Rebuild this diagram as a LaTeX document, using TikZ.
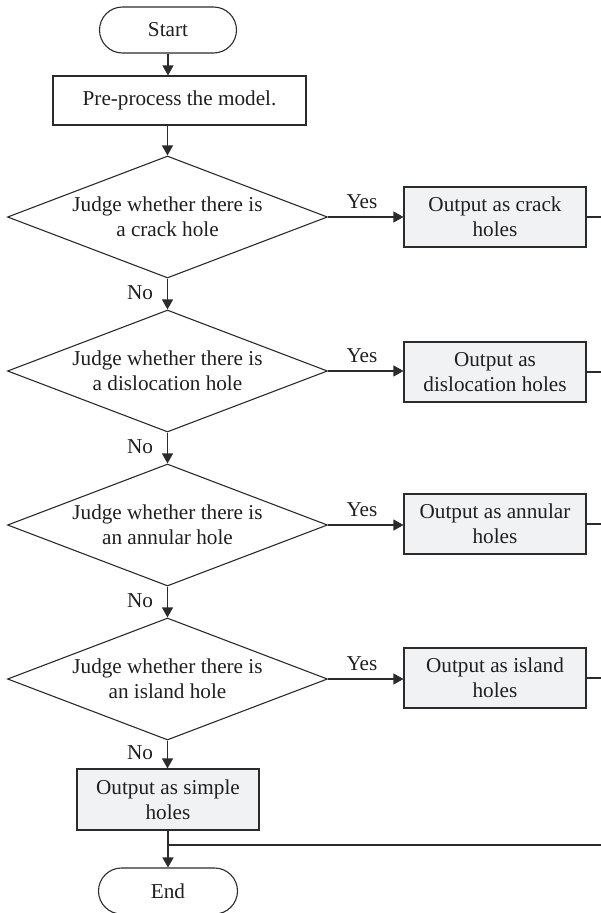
\documentclass[tikz,border=0pt]{standalone}
\usepackage{fontspec}
\setmainfont{Liberation Serif}
\usetikzlibrary{shapes.geometric,shapes.misc,arrows.meta}
\definecolor{ln}{HTML}{2B2B2B}
\definecolor{bx}{HTML}{F1F2F4}
\tikzset{
  base/.style={draw=ln, line width=1.1pt, align=center, inner sep=0pt,
    font=\fontsize{21.2}{25}\selectfont, text=black!88},
  term/.style={base, rounded rectangle, minimum width=137pt, minimum height=46pt},
  proc/.style={base, rectangle, minimum width=253pt, minimum height=49pt},
  outbox/.style={base, rectangle, fill=bx, minimum width=182pt, minimum height=60pt},
  judge/.style={base, diamond, aspect=2.62, minimum width=320pt, minimum height=122pt},
  arr/.style={draw=ln, line width=1.1pt, -{Triangle[length=10pt,width=11pt]}},
  conn/.style={draw=ln, line width=1.1pt},
  lbl/.style={font=\fontsize{21.2}{25}\selectfont, text=black!88, inner sep=0pt}
}
\begin{document}
\begin{tikzpicture}[x=1pt,y=-1pt]
\useasboundingbox (0,0) rectangle (601,913);
\node[term] (start) at (168,30) {Start};
\node[proc] (pre) at (179.5,100.5) {Pre-process the model.};
\node[judge] (d1) at (167.5,217) {Judge whether there is\\a crack hole};
\node[judge] (d2) at (167.5,371) {Judge whether there is\\a dislocation hole};
\node[judge] (d3) at (167.5,525) {Judge whether there is\\an annular hole};
\node[judge] (d4) at (167.5,679) {Judge whether there is\\an island hole};
\node[outbox] (o1) at (495,217) {Output as crack\\holes};
\node[outbox] (o2) at (495,372) {Output as\\dislocation holes};
\node[outbox] (o3) at (495,524) {Output as annular\\holes};
\node[outbox] (o4) at (495,678) {Output as island\\holes};
\node[outbox, minimum height=61pt] (simple) at (168,799.5) {Output as simple\\holes};
\node[term, minimum width=139pt] (end) at (168,891) {End};
\coordinate (r1) at (601,217);
\coordinate (r2) at (601,372);
\coordinate (r3) at (601,524);
\coordinate (r4) at (601,678);
\coordinate (rb) at (601,845);
\coordinate (jn) at (168,845);

\draw[arr] (start.south) -- (start.south |- pre.north);
\draw[arr] (d1.north |- pre.south) -- (d1.north);
\draw[arr] (d1.south) -- node[lbl, pos=0.45, left=14pt] {No} (d2.north);
\draw[arr] (d2.south) -- node[lbl, pos=0.45, left=14pt] {No} (d3.north);
\draw[arr] (d3.south) -- node[lbl, pos=0.45, left=14pt] {No} (d4.north);
\draw[arr] (d4.south) -- node[lbl, pos=0.45, left=14pt] {No} (d4.south |- simple.north);
\foreach \i in {1,2,3,4}{
  \draw[arr] (d\i.east) -- node[lbl, pos=0.45, above=8pt] {Yes} (o\i.west |- d\i.east);
  \draw[conn] (o\i.east) -- (r\i);
}
\draw[conn] (simple.south) -- (jn);
\draw[draw=ln, line width=1.8pt] (rb) -- (jn);
\draw[arr, line width=1.6pt] (jn) -- (end.north);
\end{tikzpicture}
\end{document}
